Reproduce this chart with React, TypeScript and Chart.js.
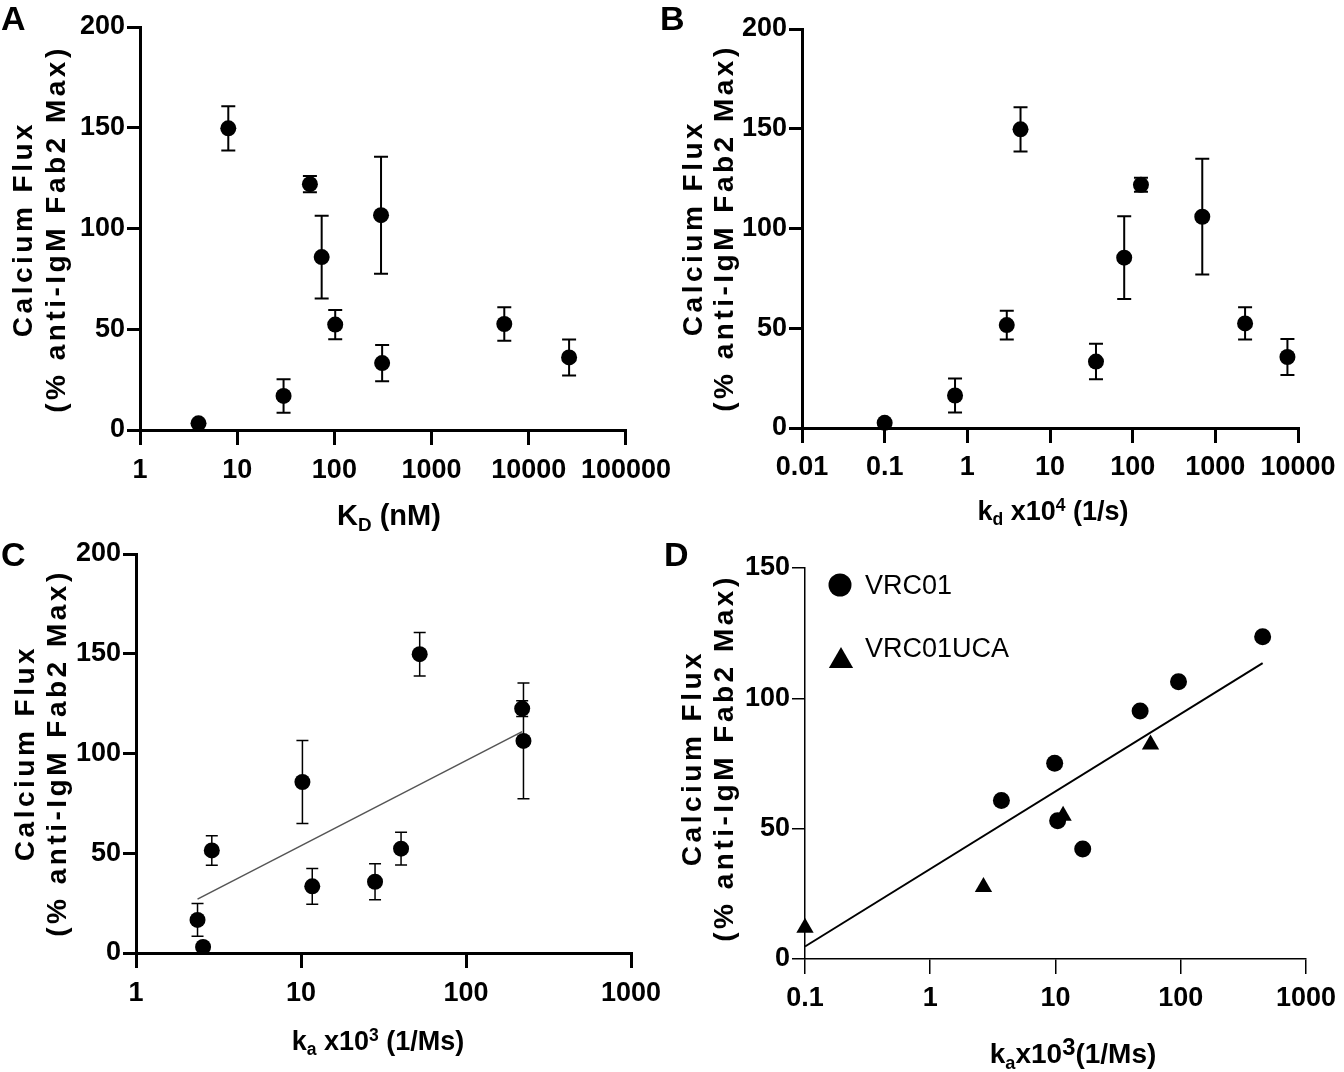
import React, { useEffect, useRef } from 'react';
import { Chart, registerables } from 'chart.js';

Chart.register(...registerables);

const FONT = '"Liberation Sans", Arial, Helvetica, sans-serif';

// ---------- Panel A: K_D (nM) ----------
const aKD = [4, 8.1, 56, 74, 102, 30, 302, 310, 5600, 26000];
const aFlux = [3.3, 149.7, 122, 85.8, 52.3, 16.9, 106.6, 33.2, 52.6, 36];
const aErr = [0, 11, 4, 20.5, 7.3, 8.3, 29, 9, 8.3, 8.9];
const aXTicks = [1, 10, 100, 1000, 10000, 100000];

// ---------- Panel B: k_d x10^4 (1/s) ----------
const bKd = [0.1, 0.71, 3.0, 4.4, 36, 79, 126, 695, 2290, 7450];
const bFlux = [2.6, 16.3, 51.6, 149.7, 33.3, 85.4, 121.9, 105.9, 52.4, 35.6];
const bErr = [0, 8.5, 7.2, 11.1, 8.9, 20.8, 3.5, 29, 8.1, 9];
const bXTicks = [0.01, 0.1, 1, 10, 100, 1000, 10000];

// ---------- Panel C: k_a x10^3 (1/Ms) ----------
const cKa = [2.36, 2.55, 2.88, 10.2, 11.7, 28.1, 40.4, 52.4, 219, 223];
const cFlux = [16.6, 3, 51.4, 85.7, 33.4, 35.7, 52.3, 149.8, 122.5, 106.3];
const cErr = [8.2, 0, 7.4, 20.8, 9, 9, 8.2, 10.9, 3.9, 29];
const cFitX = [2.36, 219];
const cFitY = [27, 111];
const cXTicks = [1, 10, 100, 1000];

const yTicks200 = [0, 50, 100, 150, 200];

// ---------- Panel D: VRC01 vs VRC01UCA ----------
const dVrcKa = [3.7, 9.85, 10.4, 16.5, 47.4, 96, 451];
const dVrcFlux = [60.8, 75.1, 53, 42.2, 95.1, 106.4, 123.6];
const dUcaKa = [0.1, 2.66, 11.5, 57.4];
const dUcaFlux = [12, 27.6, 55, 82.3];
const dFitX = [0.1, 451];
const dFitY = [4.8, 113.5];
const dXTicks = [0.1, 1, 10, 100, 1000];
const dYTicks = [0, 50, 100, 150];
const dLegend = ['VRC01', 'VRC01UCA'];

const pts = (xs: number[], ys: number[]) => xs.map((x, i) => ({ x, y: ys[i] }));

const errorBarPlugin = {
  id: 'errorBars',
  beforeDatasetsDraw(chart: any) {
    const { ctx } = chart;
    const xs = chart.scales.x;
    const ys = chart.scales.y;
    chart.data.datasets.forEach((ds: any) => {
      if (!ds.errors) return;
      ctx.save();
      ctx.strokeStyle = ds.errorColor || '#000';
      ctx.lineWidth = ds.errorWidth || 2;
      const cap = ds.errorCap || 7;
      ds.data.forEach((p: any, j: number) => {
        const e = ds.errors[j];
        if (!e) return;
        const px = xs.getPixelForValue(p.x);
        const t = ys.getPixelForValue(p.y + e);
        const b = ys.getPixelForValue(p.y - e);
        ctx.beginPath();
        ctx.moveTo(px, t);
        ctx.lineTo(px, b);
        ctx.moveTo(px - cap, t);
        ctx.lineTo(px + cap, t);
        ctx.moveTo(px - cap, b);
        ctx.lineTo(px + cap, b);
        ctx.stroke();
      });
      ctx.restore();
    });
  },
};

const legendMarkerPlugin = {
  id: 'legendMarkers',
  afterDatasetsDraw(chart: any, _args: any, opts: any) {
    if (!opts || !opts.items) return;
    const { ctx, chartArea } = chart;
    ctx.save();
    ctx.fillStyle = '#000';
    opts.items.forEach((it: any) => {
      const x = chartArea.left + it.dx;
      const y = chartArea.top + it.dy;
      const r = it.r;
      ctx.beginPath();
      if (it.style === 'triangle') {
        ctx.moveTo(x, y - r);
        ctx.lineTo(x + r * 0.866, y + r * 0.5);
        ctx.lineTo(x - r * 0.866, y + r * 0.5);
        ctx.closePath();
      } else {
        ctx.arc(x, y, r, 0, Math.PI * 2);
      }
      ctx.fill();
    });
    ctx.restore();
  },
};

type Area = { l: number; t: number; r: number; b: number };
type PanelProps = {
  left: number;
  top: number;
  width: number;
  height: number;
  area: Area;
  xTicks: number[];
  yTicks: number[];
  axisWidth: number;
  xPad: number;
  datasets: any[];
  legendItems?: any[];
};

function Panel(p: PanelProps) {
  const ref = useRef<HTMLCanvasElement | null>(null);
  useEffect(() => {
    const canvas = ref.current;
    if (!canvas) return;
    const lw = p.axisWidth;
    const tickFont = { family: FONT, size: 27, weight: 'bold' as const };
    const chart = new Chart(canvas, {
      type: 'scatter',
      data: { datasets: p.datasets },
      options: {
        responsive: false,
        animation: false,
        events: [],
        layout: {
          padding: {
            left: 0,
            top: p.area.t - p.top,
            right: p.left + p.width - p.area.r,
            bottom: 0,
          },
        },
        plugins: {
          legend: { display: false },
          tooltip: { enabled: false },
          legendMarkers: p.legendItems ? { items: p.legendItems } : false,
        } as any,
        scales: {
          x: {
            type: 'logarithmic',
            min: p.xTicks[0],
            max: p.xTicks[p.xTicks.length - 1],
            afterBuildTicks: (s: any) => {
              s.ticks = p.xTicks.map((v) => ({ value: v }));
            },
            afterFit: (s: any) => {
              s.height = p.top + p.height - p.area.b;
            },
            ticks: {
              autoSkip: false,
              maxRotation: 0,
              minRotation: 0,
              padding: p.xPad,
              color: '#000',
              font: tickFont,
              callback: (v: any) => String(v),
            },
            grid: {
              drawOnChartArea: false,
              drawTicks: true,
              tickLength: 15,
              tickWidth: lw,
              tickColor: '#000',
              color: '#000',
              lineWidth: lw,
            },
            border: { display: true, color: '#000', width: lw },
          },
          y: {
            type: 'linear',
            min: p.yTicks[0],
            max: p.yTicks[p.yTicks.length - 1],
            afterBuildTicks: (s: any) => {
              s.ticks = p.yTicks.map((v) => ({ value: v }));
            },
            afterFit: (s: any) => {
              s.width = p.area.l - p.left;
            },
            ticks: {
              padding: 2,
              color: '#000',
              font: tickFont,
              callback: (v: any) => String(v),
            },
            grid: {
              drawOnChartArea: false,
              drawTicks: true,
              tickLength: 13,
              tickWidth: lw,
              tickColor: '#000',
              color: '#000',
              lineWidth: lw,
            },
            border: { display: true, color: '#000', width: lw },
          },
        } as any,
      },
      plugins: [errorBarPlugin, legendMarkerPlugin],
    });
    return () => chart.destroy();
  }, []);
  return (
    <canvas
      ref={ref}
      width={p.width}
      height={p.height}
      style={{ position: 'absolute', left: p.left, top: p.top, width: p.width, height: p.height }}
    />
  );
}

const pointDs = (xs: number[], ys: number[], errs: number[] | null, extra: any = {}) => ({
  data: pts(xs, ys),
  errors: errs,
  pointRadius: 8,
  pointBackgroundColor: '#000',
  pointBorderColor: '#000',
  pointBorderWidth: 0,
  showLine: false,
  clip: false,
  order: 0,
  ...extra,
});

const lineDs = (xs: number[], ys: number[], color: string, width: number) => ({
  data: pts(xs, ys),
  showLine: true,
  borderColor: color,
  borderWidth: width,
  pointRadius: 0,
  clip: false,
  order: 1,
});

function Txt(props: { x: number; base: number; size: number; bold?: boolean; center?: boolean; children: any; spacing?: number }) {
  return (
    <div
      style={{
        position: 'absolute',
        left: props.x,
        top: props.base - 0.8465 * props.size,
        fontFamily: FONT,
        fontSize: props.size,
        fontWeight: props.bold ? 'bold' : 'normal',
        lineHeight: 1,
        whiteSpace: 'nowrap',
        letterSpacing: props.spacing ? props.spacing + 'px' : undefined,
        transform: props.center ? 'translateX(-50%)' : undefined,
      }}
    >
      {props.children}
    </div>
  );
}

const Sub = ({ children }: any) => (
  <span style={{ fontSize: '0.65em', position: 'relative', top: '0.3em' }}>{children}</span>
);
const Sup = ({ children, size = 0.65, rise = 0.5 }: any) => (
  <span style={{ fontSize: size + 'em', position: 'relative', top: -rise + 'em' }}>{children}</span>
);

function YTitle({ cx1, cx2, cy }: { cx1: number; cx2: number; cy: number }) {
  const line = (text: string, cx: number) => (
    <div
      style={{
        position: 'absolute',
        left: cx,
        top: cy,
        transform: 'translate(-50%, -50%) rotate(-90deg)',
        whiteSpace: 'nowrap',
        fontFamily: FONT,
        fontWeight: 'bold',
        fontSize: 28,
        lineHeight: 1,
        letterSpacing: '3.5px',
      }}
    >
      {text}
    </div>
  );
  return (
    <>
      {line('Calcium Flux', cx1)}
      {line('(% anti-IgM Fab2 Max)', cx2)}
    </>
  );
}

export default function App() {
  useEffect(() => {
    document.body.style.margin = '0';
  }, []);
  return (
    <div
      style={{
        position: 'absolute',
        left: 0,
        top: 0,
        width: 1344,
        height: 1072,
        background: '#fff',
        overflow: 'hidden',
        color: '#000',
      }}
    >
      <Panel
        left={0}
        top={0}
        width={680}
        height={530}
        area={{ l: 140, t: 27, r: 630, b: 430 }}
        xTicks={aXTicks}
        yTicks={yTicks200}
        axisWidth={3}
        xPad={9}
        datasets={[pointDs(aKD, aFlux, aErr, { errorWidth: 2, errorCap: 7 })]}
      />
      <Panel
        left={670}
        top={0}
        width={674}
        height={530}
        area={{ l: 802, t: 29, r: 1298, b: 428 }}
        xTicks={bXTicks}
        yTicks={yTicks200}
        axisWidth={3}
        xPad={8}
        datasets={[pointDs(bKd, bFlux, bErr, { errorWidth: 2, errorCap: 7 })]}
      />
      <Panel
        left={0}
        top={535}
        width={680}
        height={537}
        area={{ l: 136, t: 554, r: 631, b: 953 }}
        xTicks={cXTicks}
        yTicks={yTicks200}
        axisWidth={3}
        xPad={9}
        datasets={[
          pointDs(cKa, cFlux, cErr, { errorWidth: 1.5, errorCap: 6 }),
          lineDs(cFitX, cFitY, '#555', 1.5),
        ]}
      />
      <Panel
        left={670}
        top={540}
        width={674}
        height={532}
        area={{ l: 805, t: 568, r: 1307, b: 959 }}
        xTicks={dXTicks}
        yTicks={dYTicks}
        axisWidth={1.5}
        xPad={8}
        datasets={[
          pointDs(dVrcKa, dVrcFlux, null, { label: dLegend[0], pointRadius: 8.5 }),
          pointDs(dUcaKa, dUcaFlux, null, { label: dLegend[1], pointStyle: 'triangle', pointRadius: 10 }),
          lineDs(dFitX, dFitY, '#000', 2),
        ]}
        legendItems={[
          { style: 'circle', dx: 35, dy: 17, r: 11.5 },
          { style: 'triangle', dx: 36, dy: 93, r: 14 },
        ]}
      />

      {/* Panel letters */}
      <Txt x={1} base={30} size={34} bold>A</Txt>
      <Txt x={660} base={30} size={34} bold>B</Txt>
      <Txt x={1} base={566} size={34} bold>C</Txt>
      <Txt x={664} base={566} size={34} bold>D</Txt>

      {/* Y-axis titles */}
      <YTitle cx1={23} cx2={56} cy={229} />
      <YTitle cx1={693} cx2={724} cy={228} />
      <YTitle cx1={25} cx2={57} cy={753} />
      <YTitle cx1={692} cx2={724} cy={758} />

      {/* X-axis titles */}
      <Txt x={389} base={526} size={29} bold center>
        K<Sub>D</Sub> (nM)
      </Txt>
      <Txt x={1053} base={521} size={27} bold center>
        k<Sub>d</Sub> x10<Sup>4</Sup> (1/s)
      </Txt>
      <Txt x={378} base={1051} size={27} bold center>
        k<Sub>a</Sub> x10<Sup>3</Sup> (1/Ms)
      </Txt>
      <Txt x={1073} base={1064} size={28} bold center>
        k<Sub>a</Sub>x10<Sup size={0.85} rise={0.35}>3</Sup>(1/Ms)
      </Txt>

      {/* Legend labels (panel D) */}
      <Txt x={865} base={595} size={27}>{dLegend[0]}</Txt>
      <Txt x={865} base={658} size={27}>{dLegend[1]}</Txt>
    </div>
  );
}
